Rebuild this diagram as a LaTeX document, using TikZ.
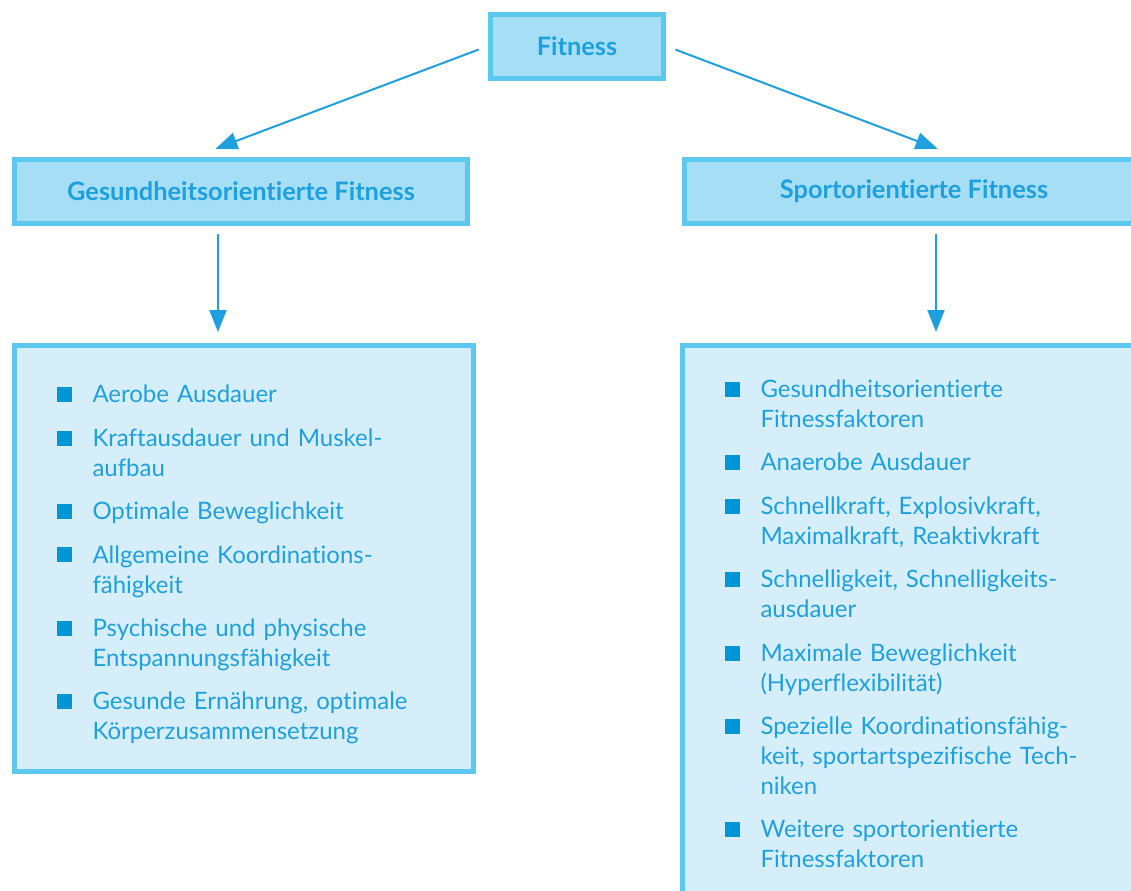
\documentclass[tikz,border=0pt]{standalone}
\usepackage{fontspec}
\setmainfont{Lato}[Ligatures=NoCommon]
\usepackage{xcolor}
\usetikzlibrary{arrows.meta,positioning,calc}
\definecolor{fitBorder}{RGB}{92,200,240}
\definecolor{fitHead}{RGB}{166,222,246}
\definecolor{fitList}{RGB}{214,238,250}
\definecolor{fitText}{RGB}{30,160,222}
\definecolor{fitBullet}{RGB}{0,150,214}
\newenvironment{fitlist}{%
  \begin{list}{\textcolor{fitBullet}{\rule[0.3pt]{7.5pt}{7.5pt}}}{%
    \setlength{\leftmargin}{18pt}\setlength{\labelwidth}{7.5pt}%
    \setlength{\labelsep}{10.5pt}\setlength{\itemsep}{6.7pt}%
    \setlength{\parsep}{0pt}\setlength{\topsep}{0pt}%
    \setlength{\partopsep}{0pt}}\raggedright}%
  {\end{list}}
\tikzset{
  titlebox/.style={
    rectangle, draw=fitBorder, line width=2.5pt, fill=fitHead,
    minimum width=#1, minimum height=32pt,
    font=\fontsize{12.7}{14}\selectfont\bfseries, text=fitText
  },
  listbox/.style={
    rectangle, anchor=north west,
    draw=fitBorder, line width=2.5pt, fill=fitList,
    text width=#1, inner xsep=21pt, inner ysep=11pt,
    font=\fontsize{12}{15}\selectfont, text=fitText
  },
  myarr/.style={-{Triangle[length=11pt,width=8.5pt]}, line width=1pt, draw=fitText},
}
\begin{document}
\begin{tikzpicture}[x=0.5pt,y=-0.5pt]
  \useasboundingbox (0,0) rectangle (1131,890);

  \node[titlebox=86.5pt]  (fit)    at (577,46)   {Fitness};
  \node[titlebox=226.5pt] (gesund) at (241,191)  {Gesundheitsorientierte Fitness};
  \node[titlebox=229.5pt] (sport)  at (914,191)  {Sportorientierte Fitness};

  \node[listbox=187.5pt, minimum height=213pt] (glist) at (12,343) {%
    \begin{fitlist}
      \item Aerobe Ausdauer
      \item Kraftausdauer und Muskel-\\aufbau
      \item Optimale Beweglichkeit
      \item Allgemeine Koordinations-\\fähigkeit
      \item Psychische und physische\\Entspannungsfähigkeit
      \item Gesunde Ernährung, optimale\\Körperzusammensetzung
    \end{fitlist}};
  \node[listbox=215pt] (slist) at (680,343) {%
    \begin{fitlist}
      \item Gesundheitsorientierte\\Fitnessfaktoren
      \item Anaerobe Ausdauer
      \item Schnellkraft, Explosivkraft,\\Maximalkraft, Reaktivkraft
      \item Schnelligkeit, Schnelligkeits-\\ausdauer
      \item Maximale Beweglichkeit\\(Hyperflexibilität)
      \item Spezielle Koordinationsfähig-\\keit, sportartspezifische Tech-\\niken
      \item Weitere sportorientierte\\Fitnessfaktoren
    \end{fitlist}\par\vspace{12pt}\hrule height 0pt};

  \draw[myarr, shorten <=5pt, shorten >=10.9pt] (fit.west) -- ([xshift=-23pt]gesund.north);
  \draw[myarr, shorten <=5pt, shorten >=10.9pt] (fit.east) -- ([xshift=22pt]sport.north);
  \draw[myarr, shorten <=4pt, shorten >=5.5pt] ([xshift=-11.5pt]gesund.south) -- ([xshift=-11.5pt]gesund.south |- glist.north);
  \draw[myarr, shorten <=4pt, shorten >=5.5pt] ([xshift=11pt]sport.south) -- ([xshift=11pt]sport.south |- slist.north);
\end{tikzpicture}
\end{document}
